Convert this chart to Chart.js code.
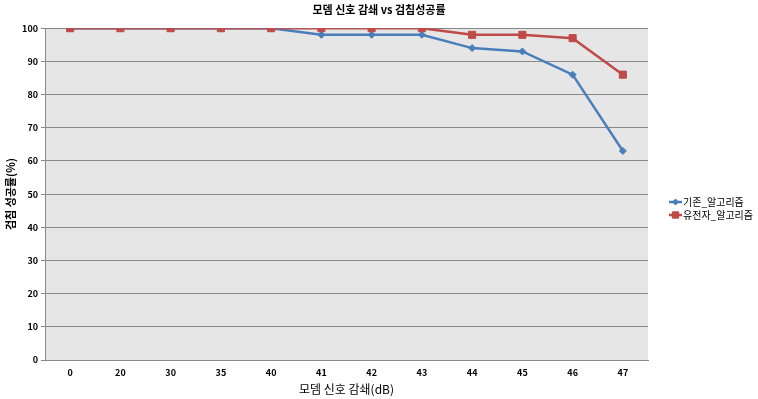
<!DOCTYPE html>
<html><head><meta charset="utf-8">
<script src="https://cdn.jsdelivr.net/npm/chart.js@4"></script>
<style>html,body{margin:0;padding:0;background:#fff}#wrap{width:758px;height:399px}</style>
</head><body><div id="wrap"><canvas id="c" width="758" height="399"></canvas></div>
<script>
const categories = ['0','20','30','35','40','41','42','43','44','45','46','47'];
const seriesNames = ['기존_알고리즘','유전자_알고리즘'];
const baseValues = [100,100,100,100,100,98,98,98,94,93,86,63];
const geneticValues = [100,100,100,100,100,100,100,100,98,98,97,86];
const chartTitle = '모뎀 신호 감쇄 vs 검침성공률';
const xTitle = '모뎀 신호 감쇄(dB)';
const yTitle = '검침 성공률(%)';
const FONT = '"Noto Sans CJK KR", "Noto Sans", sans-serif';
const colors = ['#4a7ebb', '#be4b48'];

const bgPlugin = {
  id: 'plotBg',
  beforeDraw(chart) {
    const a = chart.chartArea, ctx = chart.ctx;
    ctx.save(); ctx.fillStyle = '#e6e6e6';
    ctx.fillRect(a.left, a.top, a.right - a.left, a.bottom - a.top);
    ctx.restore();
  }
};
const legendPlugin = {
  id: 'customLegend',
  afterDraw(chart) {
    const ctx = chart.ctx;
    const x0 = 669, ys = [202, 215];
    chart.data.datasets.forEach((ds, i) => {
      const y = ys[i];
      ctx.save();
      ctx.strokeStyle = ds.borderColor; ctx.lineWidth = 2.5;
      ctx.beginPath(); ctx.moveTo(x0, y); ctx.lineTo(x0 + 13, y); ctx.stroke();
      ctx.fillStyle = ds.borderColor; ctx.lineWidth = 1;
      Chart.helpers.drawPoint(ctx, {pointStyle: ds.pointStyle, radius: ds.pointRadius - 0.5, borderWidth: 1}, x0 + 6.5, y);
      ctx.fillStyle = '#000';
      ctx.font = '10px ' + FONT;
      ctx.textBaseline = 'middle'; ctx.textAlign = 'left';
      ctx.fillText(seriesNames[i], x0 + 14, y);
      ctx.restore();
    });
  }
};

new Chart(document.getElementById('c'), {
  type: 'line',
  data: {
    labels: categories,
    datasets: [
      {label: seriesNames[0], data: baseValues, borderColor: colors[0], backgroundColor: colors[0],
       borderWidth: 2.5, pointStyle: 'rectRot', pointRadius: 3.5, pointBorderWidth: 1, tension: 0, order: 2},
      {label: seriesNames[1], data: geneticValues, borderColor: colors[1], backgroundColor: colors[1],
       borderWidth: 2.5, pointStyle: 'rect', pointRadius: 5, pointBorderWidth: 1, tension: 0, order: 1}
    ]
  },
  options: {
    responsive: false, animation: false,
    layout: {padding: 0},
    plugins: {
      legend: {display: false}, tooltip: {enabled: false},
      title: {display: true, text: chartTitle, color: '#000',
        font: {family: FONT, size: 11, weight: 'bold', lineHeight: 1.2}, padding: {top: 3, bottom: 12}}
    },
    scales: {
      x: {
        offset: true,
        grid: {display: false, drawTicks: false, offset: true},
        border: {display: true, color: '#888', width: 1},
        ticks: {color: '#000', font: {family: FONT, size: 9, weight: 'bold'}, padding: 7, maxRotation: 0, autoSkip: false},
        title: {display: true, text: xTitle, color: '#000', font: {family: FONT, size: 12}, padding: {top: 0, bottom: 2}},
        afterFit(s) { s.height = 39; }
      },
      y: {
        min: 0, max: 100,
        grid: {color: '#888', lineWidth: 1, tickLength: 4, drawTicks: true},
        border: {display: true, color: '#888', width: 1},
        ticks: {stepSize: 10, color: '#000', font: {family: FONT, size: 9, weight: 'bold'}, padding: 3},
        title: {display: true, text: yTitle, color: '#000', font: {family: FONT, size: 11, weight: 'bold'}, padding: {top: 4, bottom: 0}},
        afterFit(s) { s.width = 45; }
      },
      yRight: {
        position: 'right', min: 0, max: 100,
        grid: {display: false, drawTicks: false},
        border: {display: false},
        ticks: {display: false},
        afterFit(s) { s.width = 110; }
      }
    }
  },
  plugins: [bgPlugin, legendPlugin]
});
</script></body></html>
